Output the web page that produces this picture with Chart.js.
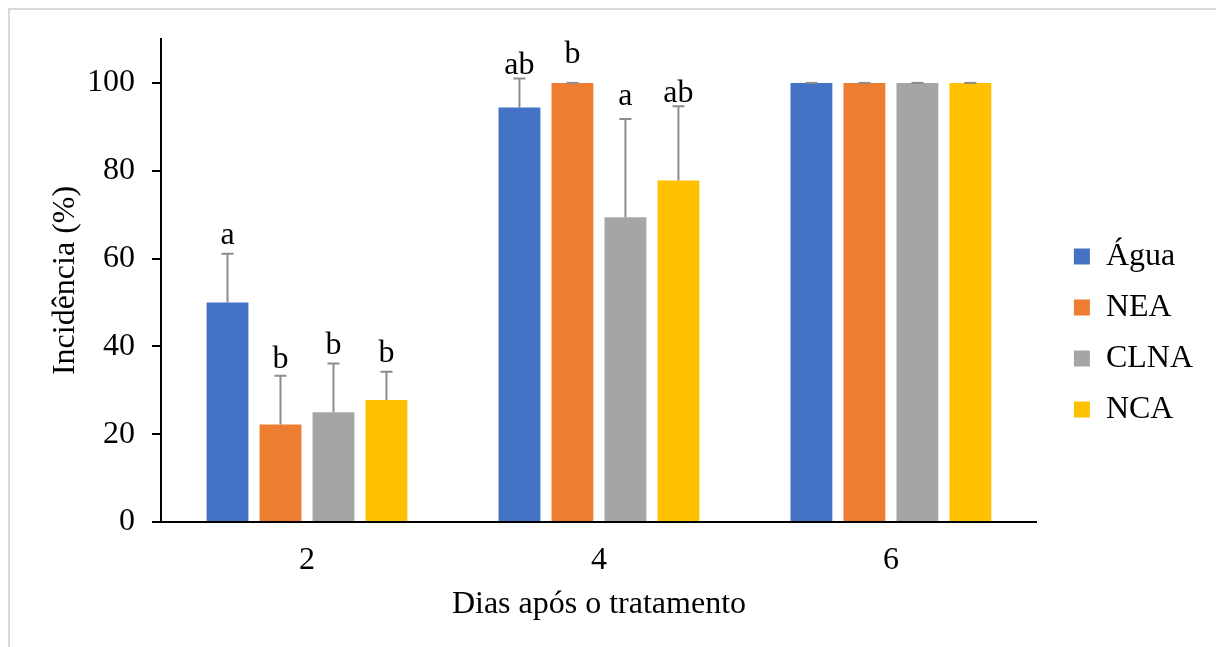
<!DOCTYPE html>
<html lang="pt">
    <head>
        <meta charset="UTF-8" />
        <title>Incidência</title>
        <script src="https://cdn.jsdelivr.net/npm/chart.js@4"></script>
        <style>
            * {
                padding: 0;
                margin: 0;
                box-sizing: border-box;
            }

            body {
                width: 1216px;
                height: 647px;
                overflow: hidden;
                background: #fff;
                position: relative;
            }

            .frame {
                position: absolute;
                left: 8px;
                top: 8px;
                width: 1400px;
                height: 900px;
                border: 2px solid #d9d9d9;
            }

            .chart-container {
                position: absolute;
                left: 0;
                top: 0;
                width: 1216px;
                height: 647px;
            }
        </style>
    </head>
    <body>
        <div class="frame"></div>
        <div class="chart-container">
            <canvas id="incidenceChart"></canvas>
        </div>

        <script>
            // days after treatment
            const days = ["2", "4", "6"];
            const treatments = ["Água", "NEA", "CLNA", "NCA"];

            // mean incidence (%) per treatment
            const agua = [50, 94.4, 100];
            const nea = [22.2, 100, 100];
            const clna = [25, 69.4, 100];
            const nca = [27.8, 77.8, 100];

            // upper error
            const aguaErr = [11.1, 6.6, 0];
            const neaErr = [11.1, 0, 0];
            const clnaErr = [11.1, 22.4, 0];
            const ncaErr = [6.4, 16.9, 0];

            // significance letters
            const aguaLetters = ["a", "ab", ""];
            const neaLetters = ["b", "b", ""];
            const clnaLetters = ["b", "a", ""];
            const ncaLetters = ["b", "ab", ""];

            const yTicks = [0, 20, 40, 60, 80, 100];

            const colors = ["#4472C4", "#ED7D31", "#A5A5A5", "#FFC000"];
            const values = [agua, nea, clna, nca];
            const errors = [aguaErr, neaErr, clnaErr, ncaErr];
            const letters = [aguaLetters, neaLetters, clnaLetters, ncaLetters];
            // gap (px) between the error cap and its letter
            const letterGap = [
                [10, 5, 0],
                [8, 20, 0],
                [9, 14, 0],
                [10, 4, 0],
            ];

            const serif = "'Liberation Serif', 'Times New Roman', serif";
            const fontSize = 32;
            Chart.defaults.font.family = serif;
            Chart.defaults.font.size = fontSize;
            Chart.defaults.color = "#000";

            // keep some room between plot and legend
            const legendGap = 18;
            const legendGapPlugin = {
                id: "legendGap",
                beforeInit(chart) {
                    const originalFit = chart.legend.fit;
                    chart.legend.fit = function fit() {
                        originalFit.call(this);
                        this.width += legendGap;
                    };
                },
                afterUpdate(chart) {
                    chart.legend.left += legendGap;
                },
            };

            const errorBarPlugin = {
                id: "errorBars",
                afterDatasetsDraw(chart) {
                    const ctx = chart.ctx;
                    const y = chart.scales.y;
                    ctx.save();
                    chart.data.datasets.forEach((ds, i) => {
                        const meta = chart.getDatasetMeta(i);
                        meta.data.forEach((bar, j) => {
                            const top = y.getPixelForValue(ds.data[j] + errors[i][j]);
                            ctx.strokeStyle = "#8c8c8c";
                            ctx.lineWidth = 2;
                            ctx.beginPath();
                            ctx.moveTo(bar.x, bar.y);
                            ctx.lineTo(bar.x, top);
                            ctx.moveTo(bar.x - 6, top);
                            ctx.lineTo(bar.x + 6, top);
                            ctx.stroke();

                            const txt = letters[i][j];
                            if (txt) {
                                ctx.fillStyle = "#000";
                                ctx.font = fontSize + "px " + serif;
                                ctx.textAlign = "center";
                                ctx.textBaseline = "alphabetic";
                                ctx.fillText(txt, bar.x, top - letterGap[i][j]);
                            }
                        });
                    });
                    ctx.restore();
                },
            };

            Chart.register(legendGapPlugin);

            const ctx = document.getElementById("incidenceChart").getContext("2d");
            new Chart(ctx, {
                type: "bar",
                data: {
                    labels: days,
                    datasets: treatments.map((name, i) => ({
                        label: name,
                        data: values[i],
                        backgroundColor: colors[i],
                        categoryPercentage: 0.726,
                        barPercentage: 0.79,
                    })),
                },
                options: {
                    maintainAspectRatio: false,
                    animation: false,
                    layout: {
                        padding: { top: 39, left: 46, bottom: 20, right: 13 },
                    },
                    plugins: {
                        tooltip: { enabled: false },
                        legend: {
                            position: "right",
                            align: "center",
                            labels: {
                                boxWidth: 16,
                                boxHeight: 16,
                                padding: 19,
                                color: "#000",
                            },
                        },
                    },
                    scales: {
                        x: {
                            afterFit(scale) {
                                scale.height = 105;
                            },
                            grid: {
                                drawOnChartArea: false,
                                drawTicks: false,
                            },
                            border: { color: "#000", width: 2 },
                            ticks: { padding: 19, color: "#000" },
                            title: {
                                display: true,
                                text: "Dias após o tratamento",
                                color: "#000",
                                padding: { top: 0, bottom: 3 },
                            },
                        },
                        y: {
                            min: 0,
                            max: 110,
                            afterBuildTicks(axis) {
                                axis.ticks = yTicks.map((v) => ({ value: v }));
                            },
                            afterFit(scale) {
                                scale.width = 115;
                            },
                            grid: {
                                drawOnChartArea: false,
                                drawTicks: true,
                                tickLength: 9,
                                color: "#000",
                                lineWidth: 2,
                            },
                            border: { color: "#000", width: 2 },
                            ticks: { padding: 17, color: "#000" },
                            title: {
                                display: true,
                                text: "Incidência (%)",
                                color: "#000",
                                padding: { top: 0, bottom: 0 },
                            },
                        },
                    },
                },
                plugins: [errorBarPlugin],
            });
        </script>
    </body>
</html>
